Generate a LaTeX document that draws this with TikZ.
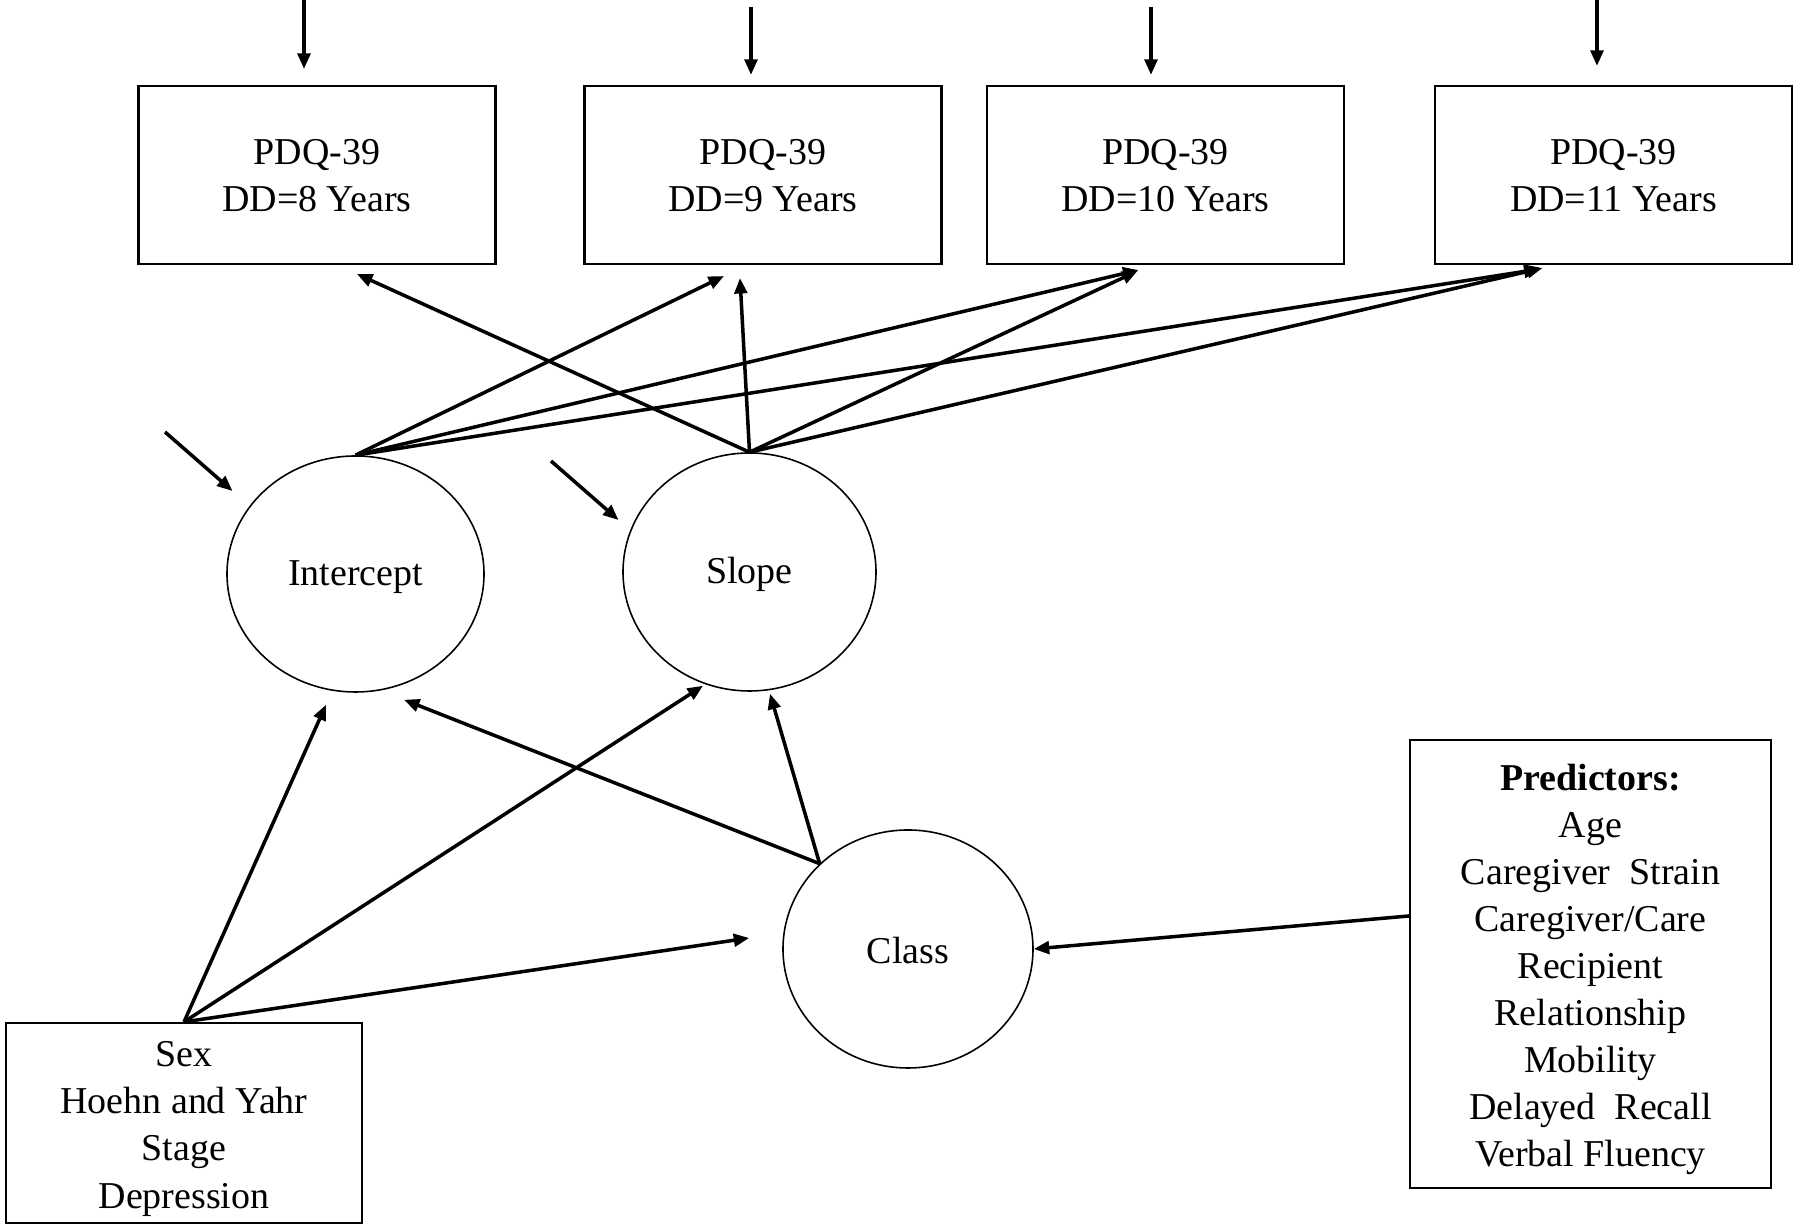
\documentclass[tikz,border=0pt]{standalone}
\usepackage{fontspec}
\setmainfont{Liberation Serif}
\usetikzlibrary{shapes.geometric,arrows.meta,calc}
\newcommand{\nudge}[1]{\rule{0pt}{#1}}

\begin{document}
\begin{tikzpicture}[
    obsbox/.style={draw, line width=0.6pt, inner sep=0pt, align=center, minimum width=3.57cm, minimum height=1.78cm, font=\fontsize{10.8}{13.4}\selectfont},
    latent/.style={draw, ellipse, line width=0.45pt, inner sep=0pt, font=\fontsize{10.8}{13.4}\selectfont},
    effect/.style={line width=1pt, -{Triangle[length=4.4pt,width=3.6pt]}}
  ]
    \useasboundingbox (0, 0) rectangle (18, 12.27) ;
\node[obsbox] (pdq8) at (3.17, 10.52) {\nudge{0.27cm}PDQ-39\\DD=8 Years}; % Wave.0
\node[obsbox] (pdq9) at (7.63, 10.52) {\nudge{0.27cm}PDQ-39\\DD=9 Years}; % Wave.1
\node[obsbox] (pdq10) at (11.655, 10.52) {\nudge{0.27cm}PDQ-39\\DD=10 Years}; % Wave.2
\node[obsbox] (pdq11) at (16.135, 10.52) {\nudge{0.27cm}PDQ-39\\DD=11 Years}; % Wave.3
\node[latent, minimum width=2.57cm, minimum height=2.36cm] (icpt) at (3.555, 6.53) {\nudge{0.32cm}Intercept}; % Growth.0
\node[latent, minimum width=2.53cm, minimum height=2.38cm] (slope) at (7.495, 6.55) {\nudge{0.32cm}Slope}; % Growth.1
\node[latent, minimum width=2.50cm, minimum height=2.38cm] (class) at (9.08, 2.78) {\nudge{0.30cm}Class}; % Class
\node[obsbox, minimum width=3.56cm, minimum height=2.00cm] (covar) at (1.84, 1.04) {\nudge{0.37cm}Sex\\Hoehn and Yahr\\Stage\\Depression}; % Covariates
\node[obsbox, minimum width=3.61cm, minimum height=4.48cm] (pred) at (15.905, 2.63) {\nudge{0.37cm}\textbf{Predictors:}\\Age\\Caregiver\ \ Strain\\Caregiver/Care\\Recipient\\Relationship\\Mobility\\Delayed\ \ Recall\\Verbal Fluency}; % Predictors
\coordinate (u8) at ($(pdq8.north)+(-0.13, 0.86)$) ; % err8
\coordinate (u9) at ($(pdq9.north)+(-0.12, 0.78)$) ; % err9
\coordinate (u10) at ($(pdq10.north)+(-0.145, 0.78)$) ; % err10
\coordinate (u11) at ($(pdq11.north)+(-0.165, 0.86)$) ; % err11
\coordinate (zi) at (1.65, 7.95) ; % errIcpt
\coordinate (zs) at (5.51, 7.66) ; % errSlope
\draw[effect] (u8) -- ($(pdq8.north)+(-0.13, 0.16)$) ; % u8.pdq8
\draw[effect] (u9) -- ($(pdq9.north)+(-0.12, 0.10)$) ; % u9.pdq9
\draw[effect] (u10) -- ($(pdq10.north)+(-0.145, 0.10)$) ; % u10.pdq10
\draw[effect] (u11) -- ($(pdq11.north)+(-0.165, 0.19)$) ; % u11.pdq11
\draw[effect] (zi) -- ($(icpt.center)+(-1.23, 0.83)$) ; % zi.icpt
\draw[effect] (zs) -- ($(slope.center)+(-1.31, 0.52)$) ; % zs.slope
\draw[effect] (icpt.north) -- ($(pdq9.south)+(-0.39, -0.11)$) ; % icpt.pdq9
\draw[effect] (icpt.north) -- ($(pdq10.south)+(-0.27, -0.05)$) ; % icpt.pdq10
\draw[effect] (icpt.north) -- ($(pdq11.south)+(-0.74, -0.04)$) ; % icpt.pdq11
\draw[effect] (slope.north) -- ($(pdq8.south)+(0.40, -0.09)$) ; % slope.pdq8
\draw[effect] (slope.north) -- ($(pdq9.south)+(-0.23, -0.13)$) ; % slope.pdq9
\draw[effect] (slope.north) -- ($(pdq10.south)+(-0.28, -0.06)$) ; % slope.pdq10
\draw[effect] (slope.north) -- ($(pdq11.south)+(-0.71, -0.03)$) ; % slope.pdq11
\draw[effect] (class.136) -- ($(icpt.south)+(0.485, -0.07)$) ; % class.icpt
\draw[effect] (class.136) -- ($(slope.south)+(0.205, -0.02)$) ; % class.slope
\draw[effect] (covar.north) -- ($(icpt.south)+(-0.295, -0.12)$) ; % covar.icpt
\draw[effect] (covar.north) -- ($(slope.south)+(-0.465, 0.06)$) ; % covar.slope
\draw[effect] (covar.north) -- ($(class.west)+(-0.33, 0.11)$) ; % covar.class
\draw[effect] ($(pred.west)+(0, 0.48)$) -- (class.east) ; % pred.class

    \end{tikzpicture}
\end{document}
